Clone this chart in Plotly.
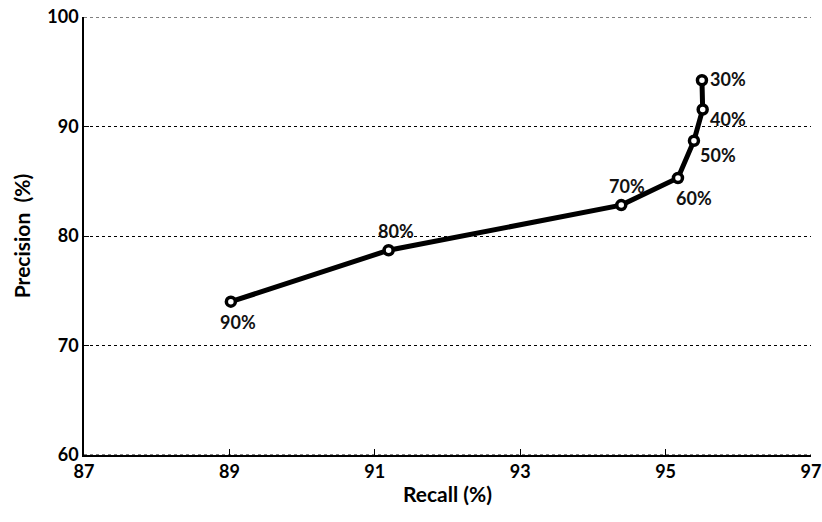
import plotly.graph_objects as go

recall = [89.02, 91.19, 94.39, 95.17, 95.39, 95.51, 95.50]
precision = [74.0, 78.7, 82.82, 85.3, 88.7, 91.55, 94.22]
labels = ["90%", "80%", "70%", "60%", "50%", "40%", "30%"]
# pixel offsets of each label relative to its point (style, not data)
label_dx = [7, 7, 6, 16, 24, 25, 26]
label_dy = [-20, 19, 19, -20, -14, -9, 1]

x_ticks = [87, 89, 91, 93, 95, 97]
y_ticks = [60, 70, 80, 90, 100]

FONT = "Lato"

fig = go.Figure()
fig.add_trace(go.Scatter(
    x=recall, y=precision, mode="lines+markers",
    line=dict(color="black", width=5),
    marker=dict(symbol="circle", size=9, color="white",
                line=dict(color="black", width=3.5)),
    cliponaxis=False, showlegend=False,
))

for xv, yv, t, dx, dy in zip(recall, precision, labels, label_dx, label_dy):
    fig.add_annotation(x=xv, y=yv, text=t, showarrow=False,
                       xshift=dx, yshift=dy,
                       font=dict(family=FONT, size=18, color="#111111", weight="bold"))

# dashed lines at the range edges (gridlines at the edge)
for yv in (60, 100):
    fig.add_shape(type="line", xref="paper", yref="y", x0=0, x1=1, y0=yv, y1=yv,
                  line=dict(color="black", width=1, dash="3px,3px"), layer="above")

fig.update_layout(
    width=822, height=522,
    margin=dict(l=84, r=11, t=17, b=67),
    paper_bgcolor="white", plot_bgcolor="white",
    font=dict(family=FONT, color="black"),
)
fig.update_xaxes(
    range=[87, 97], tickvals=x_ticks, ticktext=[str(v) for v in x_ticks],
    automargin=False, ticklabeloverflow="allow",
    showgrid=False, zeroline=False,
    showline=True, linecolor="black", linewidth=1.5,
    ticks="inside", ticklen=6, tickcolor="black",
    tickfont=dict(family=FONT, size=18, color="black", weight="bold"),
    title=dict(text="Recall (%)", font=dict(family=FONT, size=21, color="black", weight="bold"), standoff=6),
)
fig.update_yaxes(
    range=[60, 100], tickvals=y_ticks, ticktext=[str(v) for v in y_ticks],
    automargin=False, ticklabeloverflow="allow",
    showgrid=True, gridcolor="black", griddash="3px,3px", gridwidth=1,
    zeroline=False,
    showline=True, linecolor="black", linewidth=1.5,
    ticks="inside", ticklen=5, tickcolor="black",
    tickfont=dict(family=FONT, size=18, color="black", weight="bold"),
    title=dict(text="Precision  (%)", font=dict(family=FONT, size=21, color="black", weight="bold"), standoff=11),
)

fig.write_html("out.html", config={"displayModeBar": False},
               post_script="document.body.style.margin='0px';")
